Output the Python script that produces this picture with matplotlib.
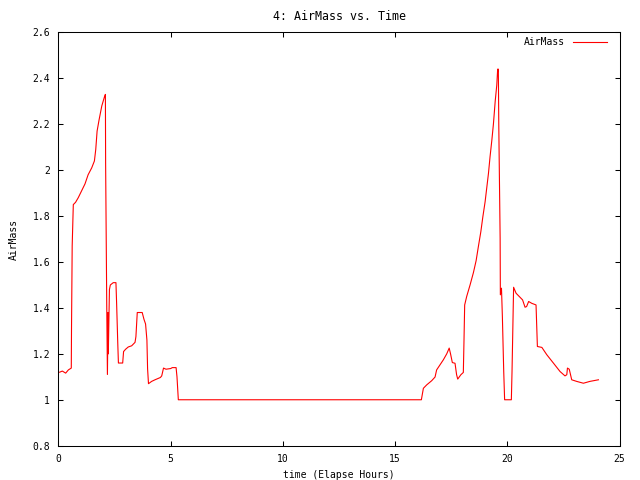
import matplotlib
matplotlib.use("Agg")
from matplotlib import pyplot as plt
from matplotlib.ticker import FuncFormatter

# time (elapsed hours) and airmass
hours = [0.05, 0.17, 0.32, 0.44, 0.57, 0.58, 0.61, 0.66, 0.76, 0.88, 1.03, 1.18, 1.32, 1.48,
         1.60, 1.66, 1.72, 1.81, 1.93, 2.05, 2.09, 2.10, 2.15, 2.18, 2.21, 2.22, 2.27, 2.31,
         2.44, 2.56, 2.59, 2.64, 2.67, 2.86, 2.90, 2.99, 3.11, 3.26, 3.41, 3.45, 3.51, 3.73,
         3.81, 3.88, 3.94, 3.97, 4.01, 4.15, 4.30, 4.54, 4.60, 4.68, 4.79, 5.00, 5.07, 5.24,
         5.28, 5.34, 16.17, 16.26, 16.41, 16.63, 16.78, 16.85, 17.00, 17.15, 17.30, 17.41,
         17.47, 17.55, 17.67, 17.74, 17.79, 17.93, 18.04, 18.07, 18.10, 18.19, 18.34, 18.49,
         18.61, 18.71, 18.82, 18.91, 19.01, 19.08, 19.16, 19.23, 19.31, 19.38, 19.46, 19.53,
         19.57, 19.60, 19.62, 19.68, 19.69, 19.74, 19.78, 19.84, 19.88, 20.18, 20.21, 20.28,
         20.39, 20.54, 20.68, 20.79, 20.86, 20.95, 21.09, 21.28, 21.34, 21.54, 21.76, 22.06,
         22.35, 22.57, 22.65, 22.68, 22.76, 22.87, 23.09, 23.39, 23.68, 24.06]
airmass = [1.12, 1.125, 1.116, 1.13, 1.138, 1.31, 1.67, 1.85, 1.86, 1.88, 1.91, 1.94, 1.98, 2.01,
           2.04, 2.09, 2.17, 2.22, 2.28, 2.32, 2.33, 2.03, 1.41, 1.11, 1.38, 1.20, 1.48, 1.50,
           1.51, 1.51, 1.42, 1.25, 1.16, 1.16, 1.21, 1.22, 1.23, 1.235, 1.25, 1.275, 1.38, 1.38,
           1.35, 1.33, 1.26, 1.135, 1.07, 1.08, 1.087, 1.097, 1.104, 1.138, 1.133, 1.136, 1.14, 1.14,
           1.10, 1.00, 1.00, 1.05, 1.065, 1.083, 1.099, 1.13, 1.152, 1.174, 1.20, 1.225,
           1.20, 1.162, 1.159, 1.109, 1.09, 1.109, 1.119, 1.26, 1.413, 1.45, 1.50, 1.554,
           1.606, 1.667, 1.732, 1.797, 1.862, 1.92, 1.986, 2.058, 2.13, 2.20, 2.30, 2.37,
           2.44, 2.44, 2.196, 1.703, 1.457, 1.486, 1.362, 1.123, 1.0, 1.0, 1.123, 1.49,
           1.464, 1.449, 1.435, 1.403, 1.406, 1.428, 1.42, 1.413, 1.232, 1.228, 1.196, 1.159,
           1.123, 1.104, 1.109, 1.138, 1.133, 1.087, 1.08, 1.072, 1.08, 1.087]

x_ticks = [0, 5, 10, 15, 20, 25]
y_ticks = [0.8, 1.0, 1.2, 1.4, 1.6, 1.8, 2.0, 2.2, 2.4, 2.6]

plt.rcParams['font.family'] = ['DejaVu Sans Mono']
plt.rcParams['font.size'] = 7

fig = plt.figure(figsize=(6.4, 4.8), dpi=100)
ax = fig.add_axes([0.0914, 0.0715, 0.8766, 0.861])

ax.plot(hours, airmass, color='red', linewidth=0.8, label='AirMass')

ax.set_xlim(0, 25)
ax.set_ylim(0.8, 2.6)
ax.set_xticks(x_ticks)
ax.set_yticks(y_ticks)
ax.yaxis.set_major_formatter(FuncFormatter(lambda v, p: f"{v:g}"))
ax.tick_params(direction='in', length=3.6, width=0.75, top=True, right=True, pad=6)
for s in ax.spines.values():
    s.set_linewidth(0.75)

ax.set_title("4: AirMass vs. Time", pad=9)
ax.set_xlabel("time (Elapse Hours)", labelpad=4)
ax.set_ylabel("AirMass", labelpad=10)

ax.legend(loc='upper right', bbox_to_anchor=(0.978, 0.989), frameon=False,
          markerfirst=False, handlelength=3.5, handletextpad=0.8,
          borderaxespad=0, borderpad=0)

fig.savefig("out.png", dpi=100)
